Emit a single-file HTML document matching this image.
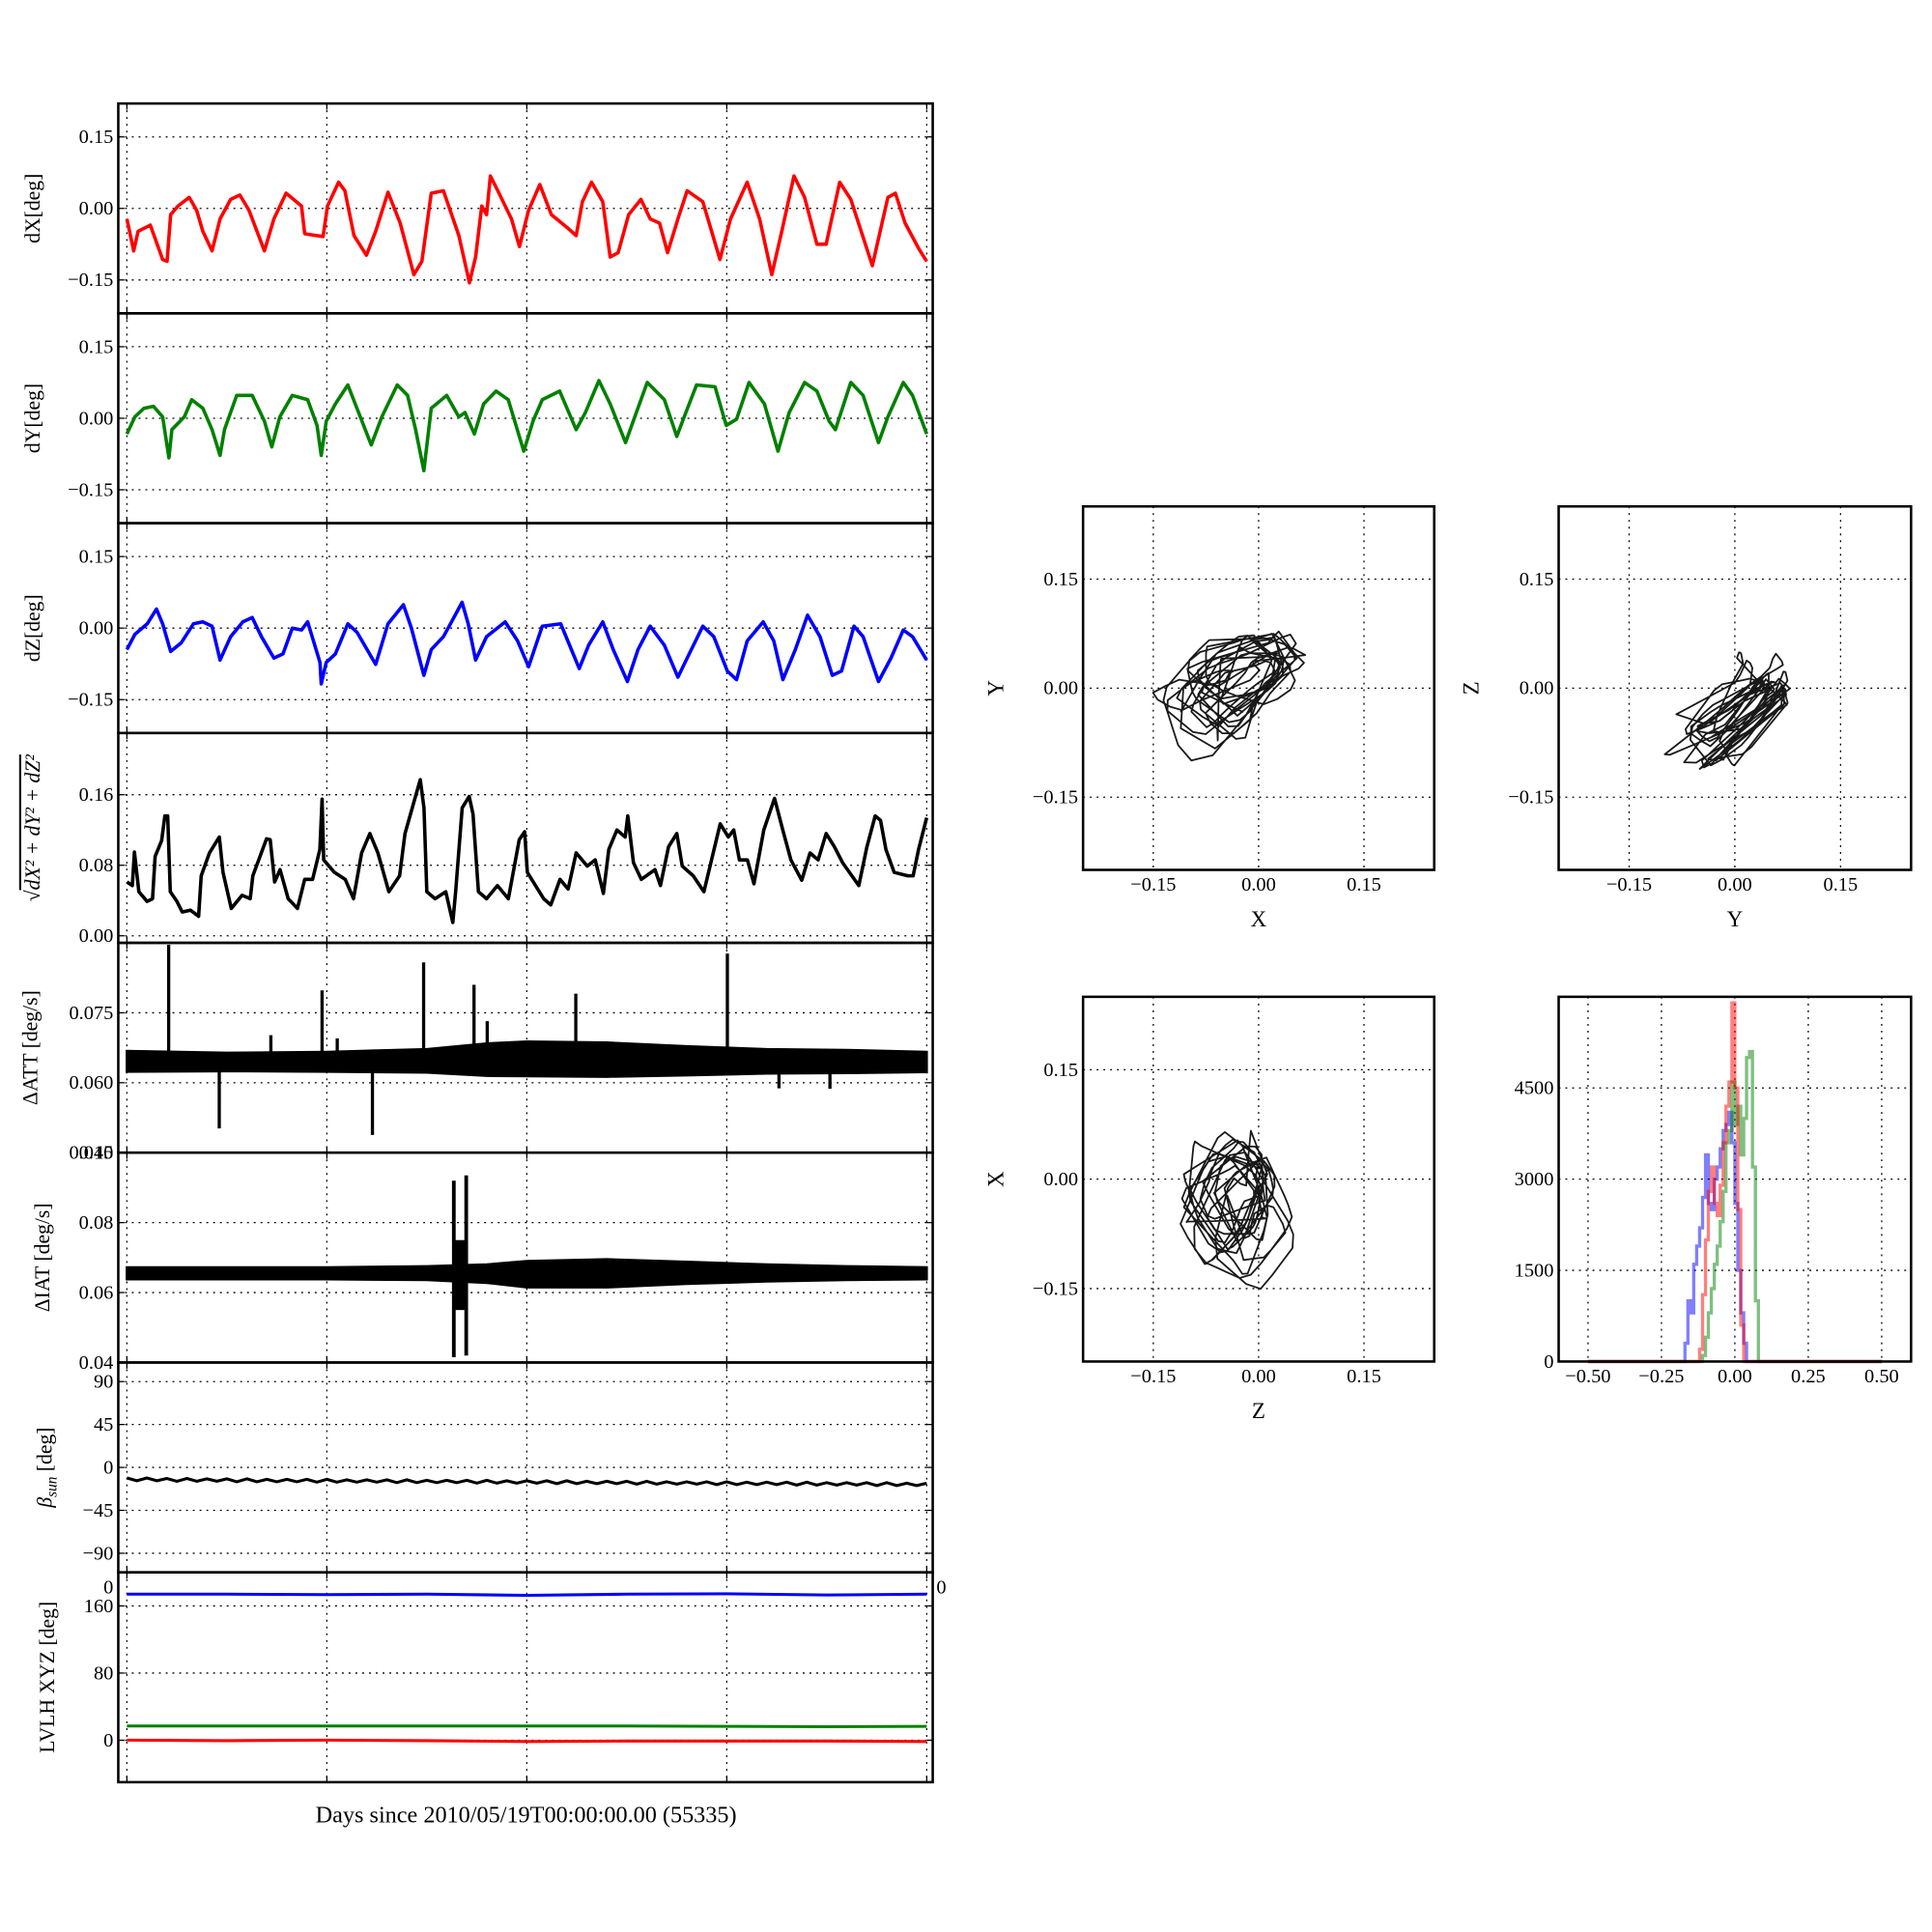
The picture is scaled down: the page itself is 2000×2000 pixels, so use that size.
<!DOCTYPE html>
<html><head><meta charset="utf-8">
<style>
html,body{margin:0;padding:0;background:#fff;}
svg{display:block;}
text{font-family:"Liberation Serif","DejaVu Serif",serif;fill:#000;}
</style></head>
<body>
<svg id="fig" xmlns="http://www.w3.org/2000/svg" width="2000" height="2000" viewBox="0 0 1568 1568">
<rect x="0" y="0" width="1568" height="1568" fill="#fff"/>
<g id="layer"></g>
</svg>
<script>
// ---------- DATA ----------
const dxT=[0,.034,.056,.117,.179,.201,.219,.256,.312,.349,.380,.426,.466,.519,.565,.611,.688,.735,.796,.873,.889,.981,1.003,1.059,1.090,1.136,1.198,1.244,1.306,1.367,1.435,1.475,1.522,1.583,1.660,1.713,1.744,1.775,1.799,1.818,1.861,1.923,1.963,2.009,2.065,2.123,2.201,2.247,2.278,2.324,2.380,2.417,2.457,2.509,2.571,2.617,2.664,2.704,2.756,2.802,2.880,2.966,3.019,3.102,3.164,3.225,3.275,3.336,3.389,3.451,3.497,3.565,3.620,3.728,3.806,3.843,3.892,3.960,4.0];
const dxV=[-.022,-.089,-.048,-.035,-.107,-.111,-.013,.005,.023,-.004,-.048,-.089,-.022,.019,.028,-.004,-.089,-.022,.032,.005,-.053,-.059,.005,.055,.037,-.057,-.098,-.048,.034,-.031,-.139,-.111,.032,.037,-.057,-.156,-.102,.005,-.013,.068,.032,-.022,-.080,-.004,.050,-.013,-.040,-.057,.014,.055,.014,-.102,-.093,-.013,.019,-.022,-.031,-.093,-.022,.037,.014,-.107,-.022,.055,-.022,-.139,-.048,.068,.023,-.075,-.075,.055,.019,-.120,.023,.032,-.031,-.084,-.111];
const dyT=[0,.040,.086,.133,.179,.210,.225,.287,.324,.380,.426,.466,.488,.549,.627,.688,.725,.765,.827,.904,.951,.972,.997,1.043,1.105,1.167,1.222,1.275,1.352,1.404,1.444,1.485,1.522,1.599,1.660,1.691,1.738,1.784,1.846,1.907,1.985,2.031,2.077,2.164,2.247,2.293,2.361,2.417,2.494,2.540,2.602,2.688,2.750,2.787,2.849,2.941,2.997,3.049,3.111,3.188,3.256,3.312,3.389,3.451,3.512,3.543,3.620,3.682,3.759,3.806,3.883,3.929,4.0];
const dyV=[-.033,.003,.021,.025,.003,-.083,-.024,.003,.039,.021,-.024,-.078,-.024,.048,.048,-.006,-.060,.003,.048,.039,-.015,-.078,-.006,.030,.070,.003,-.056,.003,.070,.048,-.024,-.110,.021,.048,.003,.012,-.033,.030,.057,.039,-.069,-.006,.039,.057,-.024,.012,.079,.030,-.051,.003,.075,.039,-.038,.003,.070,.066,-.015,-.002,.075,.030,-.069,.012,.075,.057,-.006,-.024,.075,.048,-.051,.003,.075,.048,-.033];
const dzT=[0,.040,.102,.148,.179,.219,.272,.333,.380,.426,.466,.519,.580,.627,.673,.735,.781,.827,.873,.904,.966,.972,.997,1.043,1.105,1.151,1.244,1.306,1.383,1.423,1.485,1.522,1.583,1.630,1.676,1.707,1.744,1.799,1.892,1.954,2.009,2.077,2.170,2.262,2.309,2.380,2.432,2.503,2.556,2.617,2.688,2.756,2.802,2.880,2.935,3.003,3.049,3.102,3.182,3.235,3.281,3.343,3.404,3.466,3.528,3.574,3.636,3.682,3.759,3.821,3.883,3.929,4.0];
const dzV=[-.045,-.013,.009,.040,.009,-.049,-.031,.009,.013,.004,-.067,-.018,.013,.022,-.018,-.063,-.054,0,-.004,.013,-.072,-.117,-.072,-.054,.009,-.009,-.076,.009,.049,0,-.099,-.045,-.018,.018,.054,.009,-.067,-.018,.013,-.027,-.081,.004,.009,-.085,-.036,.013,-.045,-.112,-.045,.004,-.036,-.103,-.063,.004,-.018,-.090,-.108,-.027,.013,-.027,-.108,-.045,.027,-.018,-.099,-.090,.004,-.018,-.112,-.063,-.004,-.018,-.067];
const rT=[0,.027,.038,.060,.101,.128,.141,.174,.190,.204,.217,.250,.277,.318,.359,.372,.413,.462,.481,.522,.576,.617,.630,.698,.717,.739,.766,.807,.853,.889,.929,.965,.976,.984,1.038,1.092,1.133,1.174,1.215,1.255,1.310,1.364,1.391,1.446,1.467,1.486,1.500,1.541,1.595,1.630,1.644,1.677,1.712,1.731,1.758,1.799,1.853,1.908,1.962,1.989,2.003,2.084,2.120,2.166,2.207,2.247,2.302,2.342,2.383,2.410,2.451,2.492,2.505,2.533,2.573,2.641,2.668,2.709,2.750,2.777,2.832,2.886,2.967,3.008,3.035,3.063,3.103,3.136,3.185,3.239,3.280,3.321,3.375,3.416,3.457,3.497,3.538,3.579,3.660,3.701,3.742,3.769,3.796,3.837,3.905,3.932,3.959,4.0];
const rV=[.061,.057,.095,.050,.039,.042,.090,.108,.136,.136,.050,.039,.027,.029,.022,.068,.094,.112,.072,.031,.046,.042,.068,.110,.109,.061,.075,.042,.031,.064,.064,.098,.155,.086,.072,.064,.042,.094,.116,.094,.050,.068,.116,.160,.177,.145,.050,.042,.050,.015,.050,.145,.158,.138,.050,.042,.057,.042,.109,.118,.072,.042,.035,.064,.053,.094,.079,.086,.048,.098,.120,.112,.136,.083,.064,.075,.057,.101,.116,.079,.068,.050,.127,.112,.120,.086,.086,.059,.120,.156,.120,.086,.063,.094,.086,.116,.101,.083,.057,.101,.136,.131,.098,.072,.068,.068,.098,.134];
const attSpikeT=[.209,.462,.720,.976,1.052,1.228,1.484,1.736,1.802,2.245,3.003,3.261,3.516];
const attSpikeV=[.0896,.0502,.0702,.0798,.0695,.0488,.0858,.0810,.0732,.0791,.0877,.0588,.0587];
const envT=[0,.5,1,1.5,1.8,2,2.4,2.8,3.2,3.6,4];
const attUpper=[.0668,.0664,.0666,.0672,.0684,.0688,.0686,.0678,.0672,.0670,.0666];
const attLower=[.0624,.0625,.0624,.0622,.0615,.0614,.0613,.0616,.0620,.0621,.0623];
const iatUpper=[.0672,.0672,.0672,.0675,.0680,.0690,.0695,.0688,.0680,.0675,.0672];
const iatLower=[.0638,.0638,.0638,.0636,.0628,.0615,.0615,.0625,.0632,.0636,.0638];
const iatBurstT=[1.635,1.697];
const iatBurstHi=[.0920,.0935];
const iatBurstLo=[.0415,.0420];
const betaStep=0.05;
const betaV=[-11,-14,-11,-14,-11.5,-14.5,-11.5,-14.5,-12,-14.5,
-12,-15,-12,-15,-12.5,-15,-12.5,-15,-12.5,-15.5,
-12.5,-15.5,-13,-15.5,-13,-15.5,-13,-16,-13,-16,
-13.5,-16,-13.5,-16,-13.5,-16.5,-13.5,-16.5,-14,-16.5,
-14,-16.5,-14,-17,-14,-17,-14.5,-17,-14.5,-17,
-14.5,-17.5,-14.5,-17.5,-15,-17.5,-15,-17.5,-15,-18,
-15,-18,-15.5,-18,-15.5,-18,-15.5,-18.5,-15.5,-18.5,
-16,-18.5,-16,-18.5,-16,-19,-16,-19,-16.5,-19,-16.5];
const lvlhT=[0,.5,1,1.5,2,2.5,3,3.5,4];
const lvlhX=[0,-.5,0,-.5,-1.5,-1,-1,-1,-1.5];
const lvlhY=[17,17,17,17,17,17,16.5,16,16.5];
const lvlhZ=[174,174,173.5,174,172.5,174,174.5,173,174];
const histStart=-0.20, histWidth=0.01;
const histRed=[0,0,0,0,0,0,0,0,200,1100,2000,2800,3200,2600,2400,2900,3600,4200,4600,5900,4500,2500,600,0,0,0,0,0,0,0];
const histGreen=[0,0,0,0,0,0,0,0,0,100,400,800,1200,1600,1900,2300,2800,3600,3800,4600,3900,4200,3400,4000,5000,5100,3200,1000,0,0];
const histBlue=[0,0,0,300,1000,800,1600,1900,2200,2700,3400,2600,2500,3000,3200,3500,3800,3900,4100,3600,2600,1500,800,300,0,0,0,0,0,0];
const dayTicks=[0,1,2,3,4];

// ---------- HELPERS ----------
const NS="http://www.w3.org/2000/svg";
const layer=document.getElementById('layer');
function mk(tag,attrs,parent){const e=document.createElementNS(NS,tag);for(const k in attrs)e.setAttribute(k,attrs[k]);(parent||layer).appendChild(e);return e;}
function interp(T,V,t){if(t<=T[0])return V[0];for(let i=1;i<T.length;i++){if(t<=T[i]){const f=(t-T[i-1])/(T[i]-T[i-1]);return V[i-1]+f*(V[i]-V[i-1]);}}return V[V.length-1];}
function fmtMinus(s){return s.replace('-','\u2212');}

const L=96,R=757,PT=84,PH=170.3;
const XMIN=-0.043,XMAX=4.03;
function xs(d){return L+(d-XMIN)/(XMAX-XMIN)*(R-L);}
let clipId=0;

function panel(i,ymin,ymax,ticks,labels,name){
  const top=PT+i*PH,bot=top+PH;
  const ys=v=>bot-(v-ymin)/(ymax-ymin)*PH;
  const g=mk('g',{});
  
  
  const cid='c'+(clipId++);
  const cp=mk('clipPath',{id:cid},g);mk('rect',{x:L,y:top,width:R-L,height:PH},cp);
  const grid=mk('g',{},g);
  
  
  dayTicks.forEach(d=>{mk('line',{x1:xs(d),x2:xs(d),y1:top,y2:bot,stroke:'#000','stroke-width':1,'stroke-dasharray':'1.5,4'},grid);
    mk('line',{x1:xs(d),x2:xs(d),y1:bot,y2:bot-5,stroke:'#000','stroke-width':1},grid);
    mk('line',{x1:xs(d),x2:xs(d),y1:top,y2:top+5,stroke:'#000','stroke-width':1},grid);});
  ticks.forEach((v,k)=>{const y=ys(v);
    mk('line',{x1:L,x2:R,y1:y,y2:y,stroke:'#000','stroke-width':1,'stroke-dasharray':'1.5,4'},grid);
    mk('line',{x1:L,x2:L+5,y1:y,y2:y,stroke:'#000','stroke-width':1},grid);
    mk('line',{x1:R,x2:R-5,y1:y,y2:y,stroke:'#000','stroke-width':1},grid);
    const t=mk('text',{x:L-4,y:y+5,'font-size':16,'text-anchor':'end'},g);t.textContent=fmtMinus(labels[k]);
    
    
  });
  const data=mk('g',{'clip-path':'url(#'+cid+')'},g);
  const frame=mk('rect',{x:L,y:top,width:R-L,height:PH,fill:'none',stroke:'#000','stroke-width':2},g);
  
  
  return {ys,data,top,bot,g};
}
function line(p,T,V,color,name,w){
  const pts=T.map((t,i)=>xs(t).toFixed(1)+','+p.ys(V[i]).toFixed(1)).join(' ');
  const e=mk('polyline',{points:pts,fill:'none',stroke:color,'stroke-width':w||2.8,'stroke-linejoin':'round'},p.data);
  
  
  return e;
}
function ylabel(x,y,html,name){
  const t=mk('text',{x:x,y:y,'font-size':17,'text-anchor':'middle',transform:'rotate(-90 '+x+' '+y+')'});
  t.innerHTML=html;
  
  
}

// ---------- LEFT TIME SERIES ----------
const p1=panel(0,-0.22,0.22,[-0.15,0,0.15],['-0.15','0.00','0.15'],'dx');
line(p1,dxT,dxV,'#ff0000','dx-line');
ylabel(32,PT+PH/2,'dX[deg]','dx-ylabel');
const p2=panel(1,-0.22,0.22,[-0.15,0,0.15],['-0.15','0.00','0.15'],'dy');
line(p2,dyT,dyV,'#008000','dy-line');
ylabel(32,PT+1.5*PH,'dY[deg]','dy-ylabel');
const p3=panel(2,-0.22,0.22,[-0.15,0,0.15],['-0.15','0.00','0.15'],'dz');
line(p3,dzT,dzV,'#0000ff','dz-line');
ylabel(32,PT+2.5*PH,'dZ[deg]','dz-ylabel');
const p4=panel(3,-0.008,0.23,[0,0.08,0.16],['0.00','0.08','0.16'],'norm');
line(p4,rT,rV,'#000','norm-line');
ylabel(32,PT+3.5*PH-8,'<tspan font-style="italic">√</tspan><tspan text-decoration="overline" font-style="italic">dX² + dY² + dZ²</tspan>','norm-ylabel');

const p5=panel(4,0.045,0.09,[0.045,0.060,0.075],['0.045','0.060','0.075'],'att');
(function(){const up=envT.map((t,i)=>xs(t).toFixed(1)+','+p5.ys(attUpper[i]).toFixed(1));
 const lo=envT.map((t,i)=>xs(t).toFixed(1)+','+p5.ys(attLower[i]).toFixed(1)).reverse();
 const e=mk('polygon',{points:up.concat(lo).join(' '),fill:'#000',stroke:'#000','stroke-width':2},p5.data);
 
 
 attSpikeT.forEach((t,i)=>{const base=interp(envT,attSpikeV[i]>0.065?attUpper:attLower,t);
  const s=mk('line',{x1:xs(t),x2:xs(t),y1:p5.ys(base),y2:p5.ys(attSpikeV[i]),stroke:'#000','stroke-width':2.6},p5.data);
  
  });
})();
ylabel(30,PT+4.5*PH,'ΔATT [deg/s]','att-ylabel');

const p6=panel(5,0.04,0.10,[0.04,0.06,0.08],['0.04','0.06','0.08'],'iat');
(function(){const up=envT.map((t,i)=>xs(t).toFixed(1)+','+p6.ys(iatUpper[i]).toFixed(1));
 const lo=envT.map((t,i)=>xs(t).toFixed(1)+','+p6.ys(iatLower[i]).toFixed(1)).reverse();
 const e=mk('polygon',{points:up.concat(lo).join(' '),fill:'#000',stroke:'#000','stroke-width':2},p6.data);
 
 
 iatBurstT.forEach((t,i)=>{const s=mk('line',{x1:xs(t),x2:xs(t),y1:p6.ys(iatBurstLo[i]),y2:p6.ys(iatBurstHi[i]),stroke:'#000','stroke-width':3},p6.data);
  
  });
 const b=mk('rect',{x:xs(iatBurstT[0]),y:p6.ys(0.075),width:xs(iatBurstT[1])-xs(iatBurstT[0]),height:p6.ys(0.055)-p6.ys(0.075),fill:'#000'},p6.data);
 
 
})();
(function(){const t=mk('text',{x:L-4,y:p6.top+5,'font-size':16,'text-anchor':'end'});t.textContent='0.10';
 
 })();
ylabel(40,PT+5.5*PH,'ΔIAT [deg/s]','iat-ylabel');

const p7=panel(6,-110,110,[-90,-45,0,45,90],['-90','-45','0','45','90'],'beta');
line(p7,betaV.map((v,i)=>i*betaStep),betaV,'#000','beta-line',2.4);
ylabel(42,PT+6.5*PH,'<tspan font-style="italic">β</tspan><tspan font-style="italic" font-size="12" dy="4">sun</tspan><tspan dy="-4"> [deg]</tspan>','beta-ylabel');

const p8=panel(7,-50,200,[0,80,160],['0','80','160'],'lvlh');
line(p8,lvlhT,lvlhX,'#ff0000','lvlh-x-line',2.4);
line(p8,lvlhT,lvlhY,'#008000','lvlh-y-line',2.4);
line(p8,lvlhT,lvlhZ,'#0000ff','lvlh-z-line',2.4);
(function(){const a=mk('text',{x:L-4,y:p8.top+17,'font-size':16,'text-anchor':'end'});a.textContent='0';
 
 
 const b=mk('text',{x:R+3,y:p8.top+17,'font-size':16});b.textContent='0';
 
 })();
ylabel(44,PT+7.5*PH,'LVLH XYZ [deg]','lvlh-ylabel');
(function(){const t=mk('text',{x:427,y:1479,'font-size':19,'text-anchor':'middle'});t.textContent='Days since 2010/05/19T00:00:00.00 (55335)';
 
 })();

// ---------- SCATTER PLOTS ----------
const sT=[];for(let t=0;t<=4.0001;t+=0.01)sT.push(t);
function scatter(bx,by,bw,bh,xArrT,xArrV,yArrT,yArrV,xl,yl,name){
  const lim=0.25;
  const sx=v=>bx+(v+lim)/(2*lim)*bw, sy=v=>by+bh-(v+lim)/(2*lim)*bh;
  const g=mk('g',{});
  
  
  [-0.15,0,0.15].forEach(v=>{
    mk('line',{x1:sx(v),x2:sx(v),y1:by,y2:by+bh,stroke:'#000','stroke-width':1,'stroke-dasharray':'1.5,4'},g);
    mk('line',{x1:bx,x2:bx+bw,y1:sy(v),y2:sy(v),stroke:'#000','stroke-width':1,'stroke-dasharray':'1.5,4'},g);
    const lab=v===0?'0.00':fmtMinus(v.toFixed(2));
    const a=mk('text',{x:sx(v),y:by+bh+17,'font-size':16,'text-anchor':'middle'},g);a.textContent=lab;
    
    
    const b=mk('text',{x:bx-4,y:sy(v)+5,'font-size':16,'text-anchor':'end'},g);b.textContent=lab;
    
    
  });
  const pts=sT.map(t=>sx(interp(xArrT,xArrV,t)).toFixed(1)+','+sy(interp(yArrT,yArrV,t)).toFixed(1)).join(' ');
  const pl=mk('polyline',{points:pts,fill:'none',stroke:'#000','stroke-width':1.4,'stroke-linejoin':'round',opacity:0.9},g);
  
  
  mk('rect',{x:bx,y:by,width:bw,height:bh,fill:'none',stroke:'#000','stroke-width':2},g);
  const xt=mk('text',{x:bx+bw/2,y:by+bh+46,'font-size':18,'text-anchor':'middle'},g);xt.textContent=xl;
  
  
  const cx=bx-65,cy=by+bh/2;
  const yt=mk('text',{x:cx,y:cy,'font-size':18,'text-anchor':'middle',transform:'rotate(-90 '+cx+' '+cy+')'},g);yt.textContent=yl;
  
  
}
scatter(879,411,285,295,dxT,dxV,dyT,dyV,'X','Y','scatter-xy');
scatter(1265,411,286,295,dyT,dyV,dzT,dzV,'Y','Z','scatter-yz');
scatter(879,809,285,296,dzT,dzV,dxT,dxV,'Z','X','scatter-zx');

// ---------- HISTOGRAM ----------
(function(){
  const bx=1265,by=809,bw=286,bh=296;
  const hx=v=>bx+(v+0.6)/1.2*bw, hy=c=>by+bh-c/6000*bh;
  const g=mk('g',{});
  
  
  [-0.5,-0.25,0,0.25,0.5].forEach(v=>{
    mk('line',{x1:hx(v),x2:hx(v),y1:by,y2:by+bh,stroke:'#000','stroke-width':1,'stroke-dasharray':'1.5,4'},g);
    const a=mk('text',{x:hx(v),y:by+bh+17,'font-size':16,'text-anchor':'middle'},g);a.textContent=v===0?'0.00':fmtMinus(v.toFixed(2));
    
    
  });
  [0,1500,3000,4500].forEach(c=>{
    if(c>0)mk('line',{x1:bx,x2:bx+bw,y1:hy(c),y2:hy(c),stroke:'#000','stroke-width':1,'stroke-dasharray':'1.5,4'},g);
    const b=mk('text',{x:bx-4,y:hy(c)+5,'font-size':16,'text-anchor':'end'},g);b.textContent=String(c);
    
    
  });
  function steps(counts,color,name){
    let d='M'+hx(-0.5)+','+hy(0)+' L'+hx(histStart)+','+hy(0);
    counts.forEach((c,i)=>{const x0=hx(histStart+i*histWidth),x1=hx(histStart+(i+1)*histWidth);d+=' L'+x0.toFixed(1)+','+hy(c).toFixed(1)+' L'+x1.toFixed(1)+','+hy(c).toFixed(1);});
    d+=' L'+hx(histStart+counts.length*histWidth).toFixed(1)+','+hy(0)+' L'+hx(0.5)+','+hy(0);
    const p=mk('path',{d:d,fill:'none',stroke:color,'stroke-width':2.6,'stroke-opacity':0.5},g);
    
    
  }
  steps(histBlue,'#0000ff','hist-dz');
  steps(histGreen,'#008000','hist-dy');
  steps(histRed,'#ff0000','hist-dx');
  mk('rect',{x:bx,y:by,width:bw,height:bh,fill:'none',stroke:'#000','stroke-width':2},g);
})();
</script>
</body></html>
